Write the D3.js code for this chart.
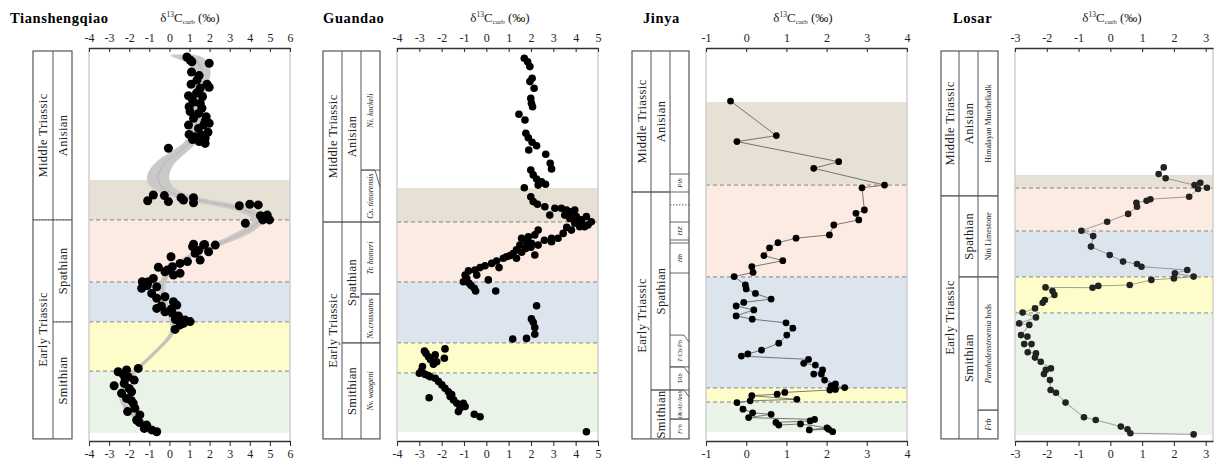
<!DOCTYPE html>
<html lang="en">
<head>
<meta charset="UTF-8">
<script src="https://d3js.org/d3.v7.min.js"></script>
<title>d13C carb sections</title>
<style>
    body { margin: 0; background: #fff; }
    text { font-family: "Liberation Serif", "Times New Roman", serif; }
</style>
</head>
<body>
<div id="app"></div>
<script>
    const svg_width = 1214
    const svg_height = 463
    const top_y = 48
    const bottom_y = 441
    const band_colors = ['#e7e0d4', '#fcebe2', '#dce5ee', '#fefdca', '#eaf3e8']

    // ---- data: [d13C, height] ----
    const tsqData = [
        [0.87,128],[1.03,127],[1.12,126.4],[1.98,125.9],[1.48,121.8],[1.37,120.3],[1.08,118.9],[1.87,118.9],
        [1.98,117.9],[1.53,117.6],[0.95,115.1],[1.65,114.8],[1.15,113.7],[1.2,113],[1.53,112.5],[0.98,111.4],
        [1.62,110.9],[1.03,109.8],[1.45,109.2],[1.83,108.1],[1.2,107.6],[1.78,106.6],[1.98,105.9],[0.95,105.3],
        [1.7,105.3],[1.45,104.2],[1.92,102.9],[0.98,102.2],[1.28,101.4],[1.78,100.9],[1.48,99.8],[1.78,99.2],
        [1.15,100.5],[1.6,102],[1.35,116],[1.1,123],[-0.05,97.6],
        [-0.8,82],[-1.08,80.1],[-0.25,81.8],[-0.05,79.8],[0.58,81.1],[0.7,80.3],[1.2,81.1],[1.2,79.4],
        [3.48,78.4],[4.0,78.9],[4.42,78.7],[4.53,75.1],[4.78,74.9],[4.98,73.7],[4.65,73.7],[3.78,72.6],[4.87,75.3],
        [1.2,65.6],[1.75,65.5],[2.28,65.3],[1.15,64.8],[1.7,65.3],[1.95,63.1],[1.53,60.3],[1.28,62.6],[0.53,59.2],
        [0.08,61.4],[0.15,58.1],[-0.55,57.9],[-0.22,56.4],[0.53,55.9],[0.2,55.3],[-0.8,54.2],[0.9,59.8],[-0.1,57],[1.45,63.5],
        [-1.35,53.1],[-1.05,53.1],[-1.38,50.9],[-0.63,51.4],[-0.88,49.2],[-0.63,47.6],[-0.22,48.1],[0.2,46.4],
        [0.37,45.3],[-0.63,44.2],[-0.22,43.1],[0.15,42.6],[0.45,41.7],[0.78,40.3],[1.03,39.8],[0.7,39.2],
        [0.53,38.7],[0.28,37.2],[-1.1,51.8],[-0.4,45],[0.1,44],[0.6,39.8],[0.3,40.5],
        [-1.55,24.2],[-2.55,23.1],[-2.13,23.7],[-2.05,21.4],[-1.75,20.3],[-2.75,18.4],[-2.25,19.2],[-2.38,15.9],
        [-1.88,16.4],[-2.13,14.2],[-1.8,12.6],[-1.72,10.9],[-2.08,9.8],[-1.47,8.7],[-1.63,7],[-1.13,5.3],
        [-0.88,3.7],[-0.63,3.1],[-1.25,4.2],[-2.3,22.2],[-2.0,17.5],[-2.2,20.8],[-1.9,13.5],[-1.5,6.2]
    ]
    // smoothed trend: [height, lower, upper]
    const tsqFit = [
        [128.8,0.1,1.2],[128.1,0.03,1.7],[126.4,0.95,1.87],[123.1,1.2,2.12],[119.8,1.28,1.95],[109.8,1.12,1.7],
        [100.9,0.95,1.53],[98.7,0.62,1.28],[95.3,-0.22,0.7],[92,-0.88,0.12],[87.6,-1.22,-0.08],[84.2,-0.97,0.15],
        [81.5,0.0,1.0],[79.4,1.28,3.0],[77.5,3.2,4.3],[74.2,4.28,4.87],[72,4.03,4.62],[68.7,3.12,3.95],
        [65.6,2.1,2.78],[61.4,0.6,1.0],[55.9,-0.38,-0.05],[50.3,-0.6,-0.3],[44.8,-0.35,-0.05],[40.3,0.05,0.35],
        [35.9,0.1,0.35],[31.4,-0.55,-0.3],[25.9,-1.4,-1.15],[20.3,-2.35,-2.05],[14.8,-2.6,-2.3],[10.3,-2.3,-1.95],
        [5.9,-1.5,-1.1],[3.1,-0.75,-0.4]
    ]
    const gdData = [
        [1.70,127.6],[1.85,126.4],[1.95,124.8],[2.05,120.9],[1.95,119.8],[2.14,117.6],[1.99,114.2],[2.02,112.6],
        [2.07,111.4],[1.46,108.9],[1.73,107],[1.77,102.6],[1.88,101.1],[2.05,99.6],[2.25,98.4],[1.9,97],[2.66,95.6],
        [2.86,92.6],[2.92,90.7],[1.99,90.3],[2.1,88.7],[2.25,87.3],[2.47,86.4],[2.65,85.6],[2.32,85.3],[1.7,84.4],
        [1.99,81.4],[2.1,79.8],[2.29,78.9],[2.62,78.1],[2.84,75.3],[3.07,77.6],[3.36,77.6],[3.59,77],[3.81,76.4],
        [3.96,77],[3.51,75.3],[3.74,74.2],[4.03,74.8],[4.26,73.7],[4.48,74.8],[4.7,73.1],[3.96,72.6],[4.18,71.4],
        [4.4,71.4],[3.81,70.3],[3.44,69.2],[3.21,67.6],[2.92,67.6],[2.92,66.4],[2.32,70.3],[2.17,68.7],[1.88,68.1],
        [1.58,67.6],[1.8,66.4],[2.02,65.9],[2.32,65.3],[1.5,65.3],[1.76,64.2],[1.35,63.7],[1.58,62.9],[2.17,62],
        [1.06,61.8],[1.35,60.9],[0.76,60.9],[0.46,60],[0.24,59.2],[-0.06,58.4],[0.57,57.8],[-0.28,57.8],[-0.51,57],
        [-0.8,56.7],[-0.95,55.3],[-0.43,55.3],[-0.88,54.2],[-1.03,53.1],[-0.77,52.6],[-0.54,50.9],[-0.68,51.8],
        [-0.48,50],[0.09,53.7],[0.42,50],[3.7,75.8],[4.1,73.2],[3.9,73.9],[4.3,72.3],[3.6,71.2],[4.55,72],
        [2.6,66.9],[2.0,64.6],[1.2,62.5],[0.9,61.4],
        [2.25,45.1],[2.02,40.7],[2.1,39.6],[2.17,37.8],[2.17,35.6],[1.8,34.2],[1.18,34],
        [-2.77,30],[-1.85,30.7],[-2.29,28.7],[-2.59,28.1],[-1.88,27.6],[-2.22,26.4],[-2.37,25.6],[-2.86,24.8],
        [-2.5,27.2],[-2.7,29.2],
        [-3.0,22.6],[-2.74,22.2],[-2.51,21.4],[-2.29,20.9],[-2.14,19.8],[-1.99,18.7],[-1.85,17.6],[-1.7,16.4],
        [-1.62,14.8],[-1.47,13.7],[-1.32,12.6],[-1.03,12.6],[-1.18,10.9],[-0.95,11.5],[-1.25,9.8],[-2.56,14.4],
        [-0.54,8.9],[-0.28,8.1],[4.48,3.1],[-2.9,23.5],[-2.6,21.8],[-1.55,15.5]
    ]
    const jyData = [
        [-0.39,113.3],[0.75,101.8],[-0.23,99.8],[2.30,93.1],[1.68,90.9],[3.44,85.3],[2.88,84.4],[2.94,77],
        [2.73,75.9],[2.8,73.7],[2.18,72],[2.07,68.7],[1.24,67.6],[0.79,66.1],[0.58,64.4],[0.44,61.8],[0.91,60.1],
        [0.14,58.1],[0.17,56.2],[-0.30,54.8],[-0.02,52],[0,50.7],[0.23,49.2],[0.62,47.3],[-0.06,46.2],[-0.25,45],
        [0.19,43.7],[-0.25,41.7],[0.15,40.6],[0.99,39.4],[1.16,37.6],[1.01,35.3],[0.81,32.6],[0.38,30.3],[0.04,29],
        [-0.12,28.3],[1.55,27.2],[1.43,25.9],[1.72,25.3],[1.9,23.7],[1.68,22.3],[1.87,22.3],[1.95,20.3],[2.22,19],
        [2.11,18.4],[2.45,17.8],[2.22,17.2],[2.08,17],[0.96,16.2],[0.77,15.6],[0.14,15.1],[1.26,13.9],[0.1,13.4],
        [-0.23,12.8],[-0.08,10.6],[0.16,9.4],[0.62,8.9],[0.06,7.8],[1.7,7.2],[1.59,6.7],[0.74,6.2],[0.81,5.3],
        [1.35,5.7],[2.01,4.4],[1.57,3.7],[2.05,3.9],[2.15,3.1]
    ]
    const lsData = [
        [1.68,91.2],[1.52,89],[1.74,87.6],[2.65,85.3],[2.83,86.1],[3.04,84.4],[2.76,84],[2.48,81.4],[1.26,80.6],
        [1.14,80.1],[0.82,79.4],[0.84,78.1],[0.56,75.7],[-0.10,73.1],[-0.91,70.1],[-0.54,68.3],[-0.61,64.8],
        [-0.02,62],[0.40,59.8],[0.84,59],[0.98,58.1],[2.42,57],[2.03,55.9],[2.62,54.8],[2.0,54.2],[1.29,53.7],
        [0.61,52],[-0.38,51.7],[-0.56,51.1],[-2.04,51.2],[-1.82,50],[-1.76,48.7],[-2.06,47],[-2.13,46.1],
        [-2.37,44.2],[-2.76,42.8],[-2.34,41.2],[-2.87,39.2],[-2.55,38.7],[-2.81,35.3],[-2.61,34.8],[-2.71,32.3],
        [-2.48,32.3],[-2.6,29.6],[-2.34,29.2],[-2.37,27.8],[-2.19,26.4],[-1.87,24.2],[-2.03,23.7],[-2.09,22.3],
        [-1.9,20.3],[-1.88,17],[-1.71,16.1],[-1.41,12.8],[-0.83,7.9],[-0.46,7],[0.33,4.8],[0.54,3.9],[0.63,2.6],[2.62,2.2]
    ]

    // band boundaries (height): brown top, pink top, blue top, yellow top, green top, green bottom
    const tsqBands = [87, 73.7, 53, 39.7, 23.3, 2.7]
    const gdBands = [84.3, 73, 53, 32.7, 22.7, 3]
    const jyBands = [113, 85.3, 54.7, 17.7, 13, 3]
    const lsBands = [88.7, 84.3, 70, 54.7, 42.7, 2]

    const tsqTicks = [-4, -3, -2, -1, 0, 1, 2, 3, 4, 5, 6]
    const gdTicks = [-4, -3, -2, -1, 0, 1, 2, 3, 4, 5]
    const jyTicks = [-1, 0, 1, 2, 3, 4]
    const lsTicks = [-3, -2, -1, 0, 1, 2, 3]

    // stratigraphic columns: c = column, t/b = top/bottom height
    const tsqUnits = [
        { c: 0, n: 'Middle Triassic', t: 130, b: 73.7, dash: true },
        { c: 0, n: 'Early Triassic', t: 73.7, b: 0.7 },
        { c: 1, n: 'Anisian', t: 130, b: 73.7, dash: true },
        { c: 1, n: 'Spathian', t: 73.7, b: 39.7, dash: true },
        { c: 1, n: 'Smithian', t: 39.7, b: 0.7 }
    ]
    const gdUnits = [
        { c: 0, n: 'Middle Triassic', t: 130, b: 73 },
        { c: 0, n: 'Early Triassic', t: 73, b: 0.7 },
        { c: 1, n: 'Anisian', t: 130, b: 73 },
        { c: 1, n: 'Spathian', t: 73, b: 32.7 },
        { c: 1, n: 'Smithian', t: 32.7, b: 0.7 },
        { c: 2, n: 'Ni. kockeli', t: 130, b: 90.3, it: true },
        { c: 2, n: 'Cs. timorensis', t: 90.3, b: 73, it: true, slant: [5, 17] },
        { c: 2, n: 'Tr. homeri', t: 73, b: 49, it: true },
        { c: 2, n: 'Ns.crassatus', t: 49, b: 32.7, it: true },
        { c: 2, n: 'Nv. waageni', t: 32.7, b: 0.7, it: true }
    ]
    const jyUnits = [
        { c: 0, n: 'Middle Triassic', t: 130, b: 83 },
        { c: 0, n: 'Early Triassic', t: 83, b: 0.7 },
        { c: 1, n: 'Anisian', t: 130, b: 83 },
        { c: 1, n: 'Spathian', t: 83, b: 17 },
        { c: 1, n: 'Smithian', t: 17, b: 0.7 },
        { c: 2, n: 'Pib', t: 89, b: 83, it: true, fs: 7 },
        { c: 2, n: '', t: 78.7, b: 78.7, dash: true },
        { c: 2, n: 'HZ', t: 73, b: 67, it: true, fs: 7 },
        { c: 2, n: 'Hb', t: 66, b: 56, it: true, fs: 7 },
        { c: 2, n: 'T/Ch/Pb', t: 35.3, b: 24.7, it: true, slant: [5, 7], fs: 6.5 },
        { c: 2, n: 'TAb', t: 24.7, b: 17, it: true, slant: [5, 7], fs: 6.5 },
        { c: 2, n: 'Ok/Ab/Amh', t: 17, b: 7.3, it: true, slant: [5, 7], fs: 6 },
        { c: 2, n: 'Frb', t: 7.3, b: 0.7, it: true, fs: 6.5 }
    ]
    const lsUnits = [
        { c: 0, n: 'Middle Triassic', t: 130, b: 81.7 },
        { c: 0, n: 'Early Triassic', t: 81.7, b: 0.7 },
        { c: 1, n: 'Anisian', t: 130, b: 81.7 },
        { c: 1, n: 'Spathian', t: 81.7, b: 54.7 },
        { c: 1, n: 'Smithian', t: 54.7, b: 0.7 },
        { c: 2, n: 'Himalayan Muschelkalk', t: 130, b: 81.7 },
        { c: 2, n: 'Niti Limestone', t: 81.7, b: 54.7 },
        { c: 2, n: 'Parahedenstroemia| beds', t: 54.7, b: 10.3 },
        { c: 2, n: 'Frb', t: 10.3, b: 0.7, it: true }
    ]

    const panels = [
        { name: 'Tianshengqiao', titleX: 10, domain: [-4, 6], range: [89, 290], labelX: 190, ticks: tsqTicks,
          data: tsqData, bands: tsqBands, units: tsqUnits, cols: [33, 53, 72], r: 4.5, fit: tsqFit },
        { name: 'Guandao', titleX: 323, domain: [-4, 5], range: [397, 598], labelX: 500, ticks: gdTicks,
          data: gdData, bands: gdBands, units: gdUnits, cols: [323, 342, 361, 380], r: 3.8 },
        { name: 'Jinya', titleX: 643, domain: [-1, 4], range: [706, 907], labelX: 803, ticks: jyTicks,
          data: jyData, bands: jyBands, units: jyUnits, cols: [632, 651, 670, 689], r: 3.4, connect: '#444' },
        { name: 'Losar', titleX: 953, domain: [-3, 3.23], range: [1015, 1213], labelX: 1112, ticks: lsTicks,
          data: lsData, bands: lsBands, units: lsUnits, cols: [941, 959, 978, 998], r: 3.3, connect: '#777', dot: '#222' }
    ]

    var svg = d3.select('#app')
        .append('svg')
        .attr('width', svg_width)
        .attr('height', svg_height)

    var y_scale = d3.scaleLinear()
        .domain([0, 131])
        .range([bottom_y, top_y])

    function drawPanel(p) {
        var g = svg.append('g')
        var x_scale = d3.scaleLinear().domain(p.domain).range(p.range)
        var w = p.range[1] - p.range[0]

        // coloured intervals
        for (let i = 0; i < 5; i++) {
            g.append('rect')
                .attr('x', p.range[0])
                .attr('y', y_scale(p.bands[i]))
                .attr('width', w)
                .attr('height', y_scale(p.bands[i + 1]) - y_scale(p.bands[i]))
                .attr('fill', band_colors[i])
        }
        g.selectAll('.bline')
            .data(p.bands.slice(1, 5))
            .enter()
            .append('line')
            .attr('x1', p.range[0]).attr('x2', p.range[1])
            .attr('y1', d => y_scale(d)).attr('y2', d => y_scale(d))
            .attr('stroke', '#777')
            .attr('stroke-width', 0.9)
            .attr('stroke-dasharray', '4,3')

        // light frame
        p.range.forEach(function (xx) {
            g.append('line')
                .attr('x1', xx).attr('x2', xx)
                .attr('y1', top_y).attr('y2', bottom_y)
                .attr('stroke', '#cfcfcf')
                .attr('stroke-width', 1.5)
        })

        // trend band
        if (p.fit) {
            var area = d3.area()
                .y(d => y_scale(d[0]))
                .x0(d => x_scale(d[1]))
                .x1(d => x_scale(d[2]))
                .curve(d3.curveBasis)
            g.append('path').attr('d', area(p.fit)).attr('fill', '#c9c9c9')
            var mid = d3.line()
                .x(d => x_scale((d[1] + d[2]) / 2))
                .y(d => y_scale(d[0]))
                .curve(d3.curveBasis)
            g.append('path').attr('d', mid(p.fit.slice(2)))
                .attr('fill', 'none')
                .attr('stroke', '#b0825a')
                .attr('stroke-width', 0.8)
                .attr('stroke-dasharray', '1,1.5')
        }

        if (p.connect) {
            var line = d3.line().x(d => x_scale(d[0])).y(d => y_scale(d[1]))
            g.append('path').attr('d', line(p.data))
                .attr('fill', 'none')
                .attr('stroke', p.connect)
                .attr('stroke-width', 0.7)
        }

        g.selectAll('circle')
            .data(p.data)
            .enter()
            .append('circle')
            .attr('cx', d => x_scale(d[0]))
            .attr('cy', d => y_scale(d[1]))
            .attr('r', p.r)
            .attr('fill', p.dot || '#000')

        // axes
        var top_axis = d3.axisTop(x_scale)
            .tickValues(p.ticks)
            .tickSize(-4)
            .tickSizeOuter(0)
            .tickPadding(6)
            .tickFormat(d => String(d))
        var bottom_axis = d3.axisBottom(x_scale)
            .tickValues(p.ticks)
            .tickSize(5)
            .tickSizeOuter(0)
            .tickPadding(3)
            .tickFormat(d => String(d))
        var ga = g.append('g').attr('transform', 'translate(0,' + top_y + ')').call(top_axis)
        var gb = g.append('g').attr('transform', 'translate(0,' + bottom_y + ')').call(bottom_axis)
        ;[ga, gb].forEach(function (a) {
            a.attr('font-family', '"Liberation Serif", serif').attr('font-size', 12)
            a.select('.domain').attr('stroke', '#333').attr('stroke-width', 1.3)
            a.selectAll('.tick line').attr('stroke', '#333').attr('stroke-width', 1.1)
            a.selectAll('.tick text').attr('fill', '#222')
        })

        // titles
        g.append('text')
            .attr('x', p.titleX).attr('y', 23)
            .attr('font-size', 14.5)
            .attr('font-weight', 'bold')
            .attr('letter-spacing', 0.6)
            .text(p.name)
        var lab = g.append('text')
            .attr('x', p.labelX).attr('y', 22)
            .attr('font-size', 13)
            .attr('text-anchor', 'middle')
            .attr('fill', '#222')
        lab.append('tspan').text('δ')
        lab.append('tspan').attr('font-size', 7.5).attr('dy', -5).text('13')
        lab.append('tspan').attr('dy', 5).text('C')
        lab.append('tspan').attr('font-size', 7).attr('dy', 2).text('carb')
        lab.append('tspan').attr('dy', -2).text(' (‰)')

        // stratigraphic column
        var c = p.cols
        var ytop = y_scale(130), ybot = y_scale(0.7)
        g.append('rect')
            .attr('x', c[0]).attr('y', ytop)
            .attr('width', c[c.length - 1] - c[0]).attr('height', ybot - ytop)
            .attr('fill', 'none').attr('stroke', '#555').attr('stroke-width', 1.2)
        c.slice(1, -1).forEach(function (xx) {
            g.append('line').attr('x1', xx).attr('x2', xx).attr('y1', ytop).attr('y2', ybot)
                .attr('stroke', '#555').attr('stroke-width', 1)
        })
        p.units.forEach(function (u) {
            var xl = c[u.c], xr = c[u.c + 1]
            var dash = u.dash ? '1.5,1.5' : null
            ;[u.t, u.b].forEach(function (hh, k) {
                if (hh >= 130 || hh <= 0.7) return
                if (k === 1 && u.t === u.b) return
                var yy = y_scale(hh)
                var d = (u.slant && k === 0)
                    ? 'M' + xl + ',' + yy + 'H' + (xr - u.slant[0]) + 'L' + xr + ',' + (yy + u.slant[1])
                    : 'M' + xl + ',' + yy + 'H' + xr
                g.append('path').attr('d', d)
                    .attr('fill', 'none')
                    .attr('stroke', '#555')
                    .attr('stroke-width', 0.9)
                    .attr('stroke-dasharray', (k === 1 || u.t === u.b) ? dash : null)
            })
            if (!u.n) return
            var cx = (xl + xr) / 2
            var cy = (y_scale(u.t) + y_scale(u.b)) / 2
            var big = u.c < 2
            var t = g.append('text')
                .attr('transform', 'translate(' + cx + ',' + cy + ') rotate(-90)')
                .attr('text-anchor', 'middle')
                .attr('dominant-baseline', 'central')
                .attr('font-size', big ? 12.5 : (u.fs || 8))
                .attr('fill', '#222')
                .attr('letter-spacing', big ? 0.4 : 0)
            if (u.n.indexOf('|') >= 0) {
                var parts = u.n.split('|')
                t.append('tspan').attr('font-style', 'italic').text(parts[0])
                t.append('tspan').text(parts[1])
            } else {
                t.attr('font-style', u.it ? 'italic' : null).text(u.n)
            }
        })
    }

    panels.forEach(drawPanel)
</script>
</body>
</html>
